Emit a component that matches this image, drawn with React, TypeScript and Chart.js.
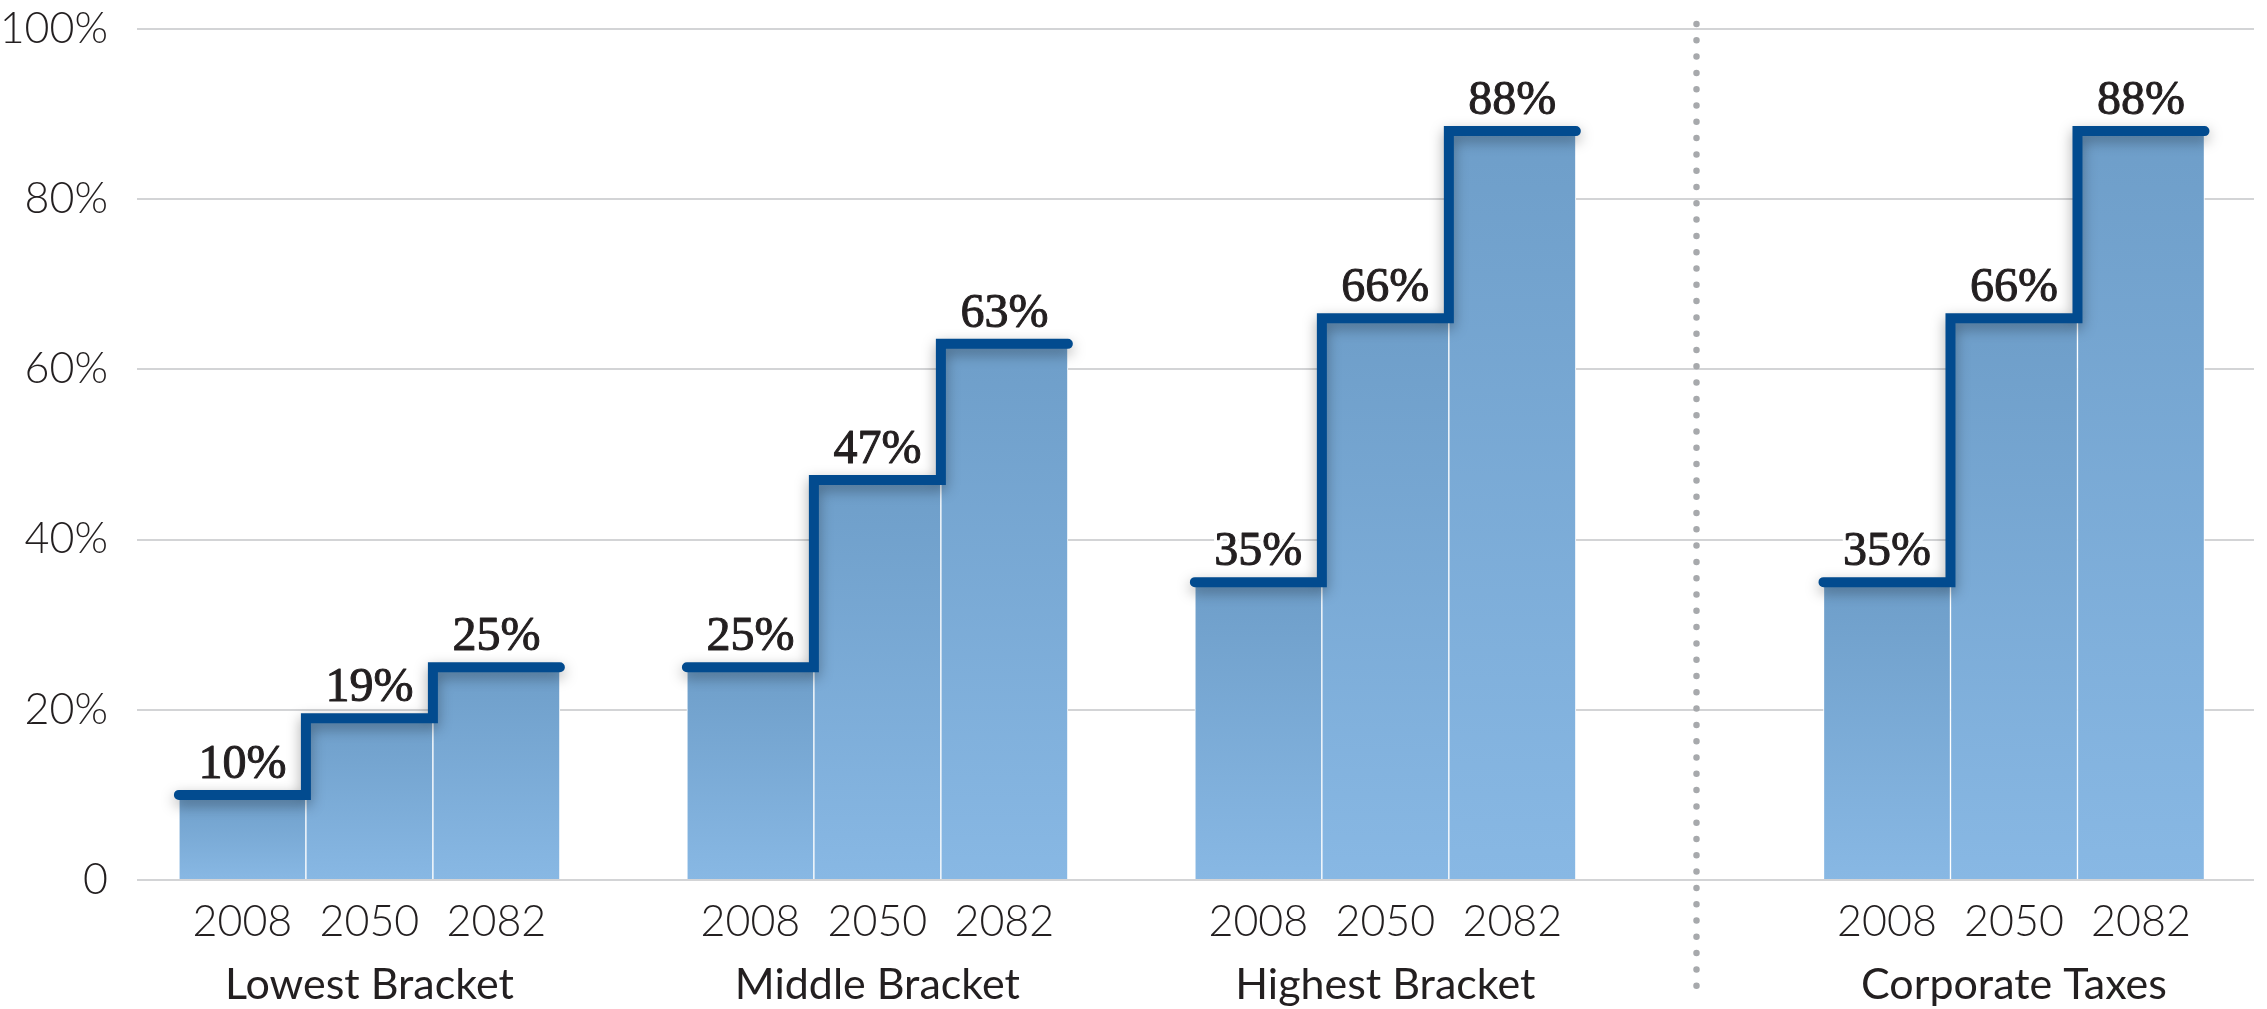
import React, { useEffect, useRef } from 'react';
import { Chart, registerables } from 'chart.js';

Chart.register(...registerables);

// ---- Data ----
const groupLabels = ['Lowest Bracket', 'Middle Bracket', 'Highest Bracket', 'Corporate Taxes'];
const yearLabels = ['2008', '2050', '2082'];
const lowestBracket = [10, 19, 25];
const middleBracket = [25, 47, 63];
const highestBracket = [35, 66, 88];
const corporateTaxes = [35, 66, 88];
const yTickValues = [0, 20, 40, 60, 80, 100];

const W = 2267;
const H = 1009;
const SANS = 'Lato, "Open Sans", sans-serif';
const SERIF = '"Liberation Serif", "Times New Roman", serif';
const TEXT = '#231f20';

// slot layout: groups of 3 bars, one empty slot between groups, about two before the last group
const groupStart = (g: number) => g * 4 + (g >= 3 ? 0.95 : 0);
const SEPARATOR_POS = 11.45;
const X_MIN = -0.83;
const X_MAX = 15.84;

export default function App() {
  const ref = useRef<HTMLCanvasElement>(null);

  useEffect(() => {
    const series = [lowestBracket, middleBracket, highestBracket, corporateTaxes];
    const barPoints: { x: number; y: number }[] = [];
    const stepPoints: { x: number; y: number | null }[] = [];
    const yearTicks: { pos: number; label: string }[] = [];
    const groupTicks: { pos: number; label: string }[] = [];
    series.forEach((vals, g) => {
      const s = groupStart(g);
      vals.forEach((v, i) => {
        barPoints.push({ x: s + i, y: v });
        yearTicks.push({ pos: s + i, label: yearLabels[i] });
      });
      groupTicks.push({ pos: s + 1, label: groupLabels[g] });
      stepPoints.push({ x: s - 0.5, y: vals[0] });
      for (let i = 1; i < vals.length; i++) stepPoints.push({ x: s + i - 0.5, y: vals[i] });
      stepPoints.push({ x: s + vals.length - 0.5, y: vals[vals.length - 1] });
      stepPoints.push({ x: s + vals.length - 0.5, y: null });
    });

    const lineShadow = {
      id: 'lineShadow',
      beforeDatasetDraw(chart: any, args: any) {
        if (args.index === 1) {
          const c = chart.ctx;
          c.save();
          c.shadowColor = 'rgba(0,0,0,0.35)';
          c.shadowBlur = 14;
          c.shadowOffsetY = 5;
        }
      },
      afterDatasetDraw(chart: any, args: any) {
        if (args.index === 1) chart.ctx.restore();
      },
    };

    const valueLabels = {
      id: 'valueLabels',
      afterDatasetsDraw(chart: any) {
        const c = chart.ctx;
        const meta = chart.getDatasetMeta(0);
        c.save();
        c.font = `48px ${SERIF}`;
        c.textAlign = 'center';
        c.textBaseline = 'alphabetic';
        c.lineJoin = 'round';
        meta.data.forEach((el: any, i: number) => {
          const txt = `${barPoints[i].y}%`;
          const y = el.y - 17;
          c.strokeStyle = '#ffffff';
          c.lineWidth = 7;
          c.strokeText(txt, el.x, y);
          c.fillStyle = TEXT;
          c.fillText(txt, el.x, y);
          c.lineWidth = 1;
          c.strokeStyle = TEXT;
          c.strokeText(txt, el.x, y);
        });
        c.restore();
      },
    };

    const separator = {
      id: 'separator',
      afterDraw(chart: any) {
        const c = chart.ctx;
        const x = chart.scales.x.getPixelForValue(SEPARATOR_POS);
        c.save();
        c.strokeStyle = '#a7a9ac';
        c.lineWidth = 6.5;
        c.lineCap = 'round';
        c.setLineDash([0, 16.3]);
        c.beginPath();
        c.moveTo(x, chart.chartArea.top - 5);
        c.lineTo(x, 990);
        c.stroke();
        c.restore();
      },
    };

    const chart = new Chart(ref.current as HTMLCanvasElement, {
      type: 'bar',
      data: {
        datasets: [
          {
            type: 'bar',
            data: barPoints as any,
            order: 1,
            barPercentage: 1,
            categoryPercentage: 1,
            borderColor: '#ffffff',
            borderWidth: { left: 1, right: 1, top: 0, bottom: 0 } as any,
            backgroundColor: (ctx: any) => {
              const chart = ctx.chart;
              const { chartArea, scales } = chart;
              if (!chartArea || ctx.type !== 'data') return '#7aaad6';
              const v = ctx.raw.y;
              const top = scales.y.getPixelForValue(v);
              const bottom = scales.y.getPixelForValue(0);
              const g = chart.ctx.createLinearGradient(0, top, 0, bottom);
              g.addColorStop(0, '#6e9ec9');
              g.addColorStop(1, '#88b8e4');
              return g;
            },
          },
          {
            type: 'line',
            data: stepPoints as any,
            order: 0,
            borderColor: '#024b8f',
            borderWidth: 10,
            stepped: 'before',
            pointRadius: 0,
            borderCapStyle: 'round',
            borderJoinStyle: 'miter',
            spanGaps: false,
            fill: false,
          } as any,
        ],
      },
      options: {
        animation: false,
        responsive: false,
        events: [],
        layout: { padding: { left: 0, top: 29, right: 13, bottom: 0 } },
        plugins: { legend: { display: false }, tooltip: { enabled: false } },
        scales: {
          x: {
            type: 'linear',
            position: 'bottom',
            min: X_MIN,
            max: X_MAX,
            offset: false,
            bounds: 'data',
            weight: 0,
            grid: { display: false, drawTicks: false, offset: false },
            border: { display: false },
            afterBuildTicks: (s: any) => {
              s.ticks = yearTicks.map((t) => ({ value: t.pos }));
            },
            afterFit: (s: any) => {
              s.height = 70;
            },
            ticks: {
              autoSkip: false,
              maxRotation: 0,
              padding: 16,
              color: TEXT,
              font: { family: SANS, size: 43, weight: '300' },
              callback: (v: any) => {
                const t = yearTicks.find((t) => Math.abs(t.pos - v) < 1e-6);
                return t ? t.label : '';
              },
            },
          },
          x2: {
            type: 'linear',
            position: 'bottom',
            min: X_MIN,
            max: X_MAX,
            offset: false,
            bounds: 'data',
            weight: 1,
            grid: { display: false, drawTicks: false, offset: false },
            border: { display: false },
            afterBuildTicks: (s: any) => {
              s.ticks = groupTicks.map((t) => ({ value: t.pos }));
            },
            afterFit: (s: any) => {
              s.height = 59;
            },
            ticks: {
              autoSkip: false,
              maxRotation: 0,
              padding: 9,
              color: TEXT,
              font: { family: SANS, size: 43, weight: '400' },
              callback: (v: any) => {
                const t = groupTicks.find((t) => Math.abs(t.pos - v) < 1e-6);
                return t ? t.label : '';
              },
            },
          },
          y: {
            min: 0,
            max: 100,
            afterBuildTicks: (s: any) => {
              s.ticks = yTickValues.map((v) => ({ value: v }));
            },
            afterFit: (s: any) => {
              s.width = 137;
              s.paddingTop = 0;
              s.paddingBottom = 0;
            },
            grid: { color: '#d3d4d6', lineWidth: 2, drawTicks: false },
            border: { display: false },
            ticks: {
              padding: 29,
              color: TEXT,
              font: { family: SANS, size: 43, weight: '300' },
              callback: (v: any) => (v === 0 ? '0' : `${v}%`),
            },
          },
        },
      } as any,
      plugins: [lineShadow, valueLabels, separator],
    });

    return () => chart.destroy();
  }, []);

  return (
    <div style={{ position: 'absolute', left: 0, top: 0, width: W, height: H, background: '#ffffff' }}>
      <canvas ref={ref} width={W} height={H} style={{ width: W, height: H, display: 'block' }} />
    </div>
  );
}
